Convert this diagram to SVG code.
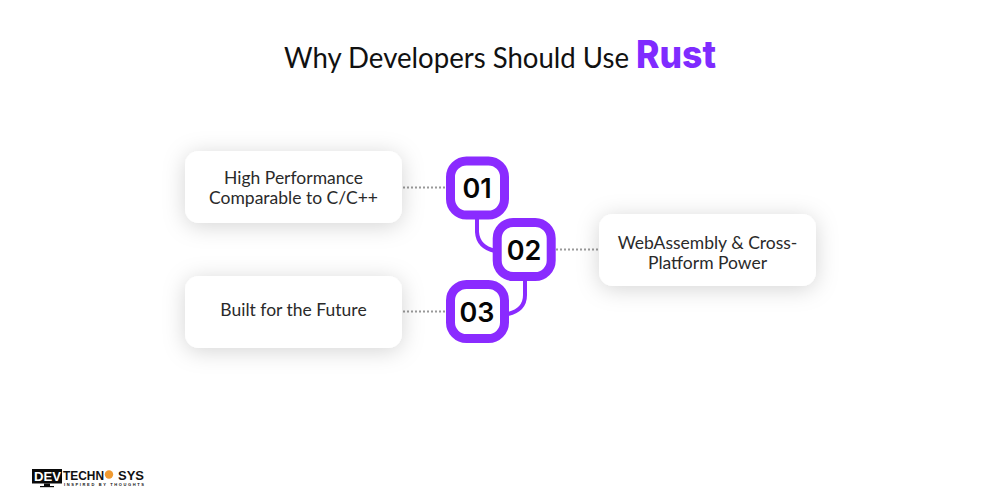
<svg xmlns="http://www.w3.org/2000/svg" width="1000" height="500" viewBox="0 0 1000 500">
<defs>
<filter id="sh" x="-30%" y="-60%" width="160%" height="220%"><feDropShadow dx="0" dy="3" stdDeviation="11" flood-color="#000" flood-opacity="0.17"/></filter>
</defs>
<style>
.card{fill:#fff;filter:url(#sh)}
.lbl{font-size:17.500px;font-weight:400;text-anchor:middle;font-family:"Lato","Liberation Sans",sans-serif;fill:#2a2a2a}
.badge{fill:#fff;stroke:#8a2bff;stroke-width:9}
.num{font-family:"Inter","Liberation Sans",sans-serif;font-weight:600;font-size:27px;text-anchor:middle;fill:#050505}
.dot{fill:none;stroke:#999;stroke-width:2;stroke-dasharray:2 2}
.link{fill:none;stroke:#8a2bff;stroke-width:4}
.lg{font-family:"Liberation Sans",sans-serif;font-weight:700;fill:#111}
</style>
<rect width="1000" height="500" fill="#fff"/>
<g id="title">
<text x="284" y="68" font-family="Lato,'Liberation Sans',sans-serif" font-size="29" fill="#111" textLength="345" lengthAdjust="spacingAndGlyphs">Why Developers Should Use</text>
<text x="636" y="67.500" font-family="Inter,'Liberation Sans',sans-serif" font-weight="800" font-size="38" fill="#7f2bff" textLength="80" lengthAdjust="spacingAndGlyphs">Rust</text>
</g>
<g id="connectors">
<path class="dot" d="M403 187.500H446"/>
<path class="dot" d="M403 311.500H446"/>
<path class="dot" d="M556 249.500H599"/>
<path class="link" d="M477 218V232Q478 247 495 251"/>
<path class="link" d="M525 280V295Q525 310 508 314"/>
</g>
<g id="node-1"><rect class="card" x="185" y="151" width="217" height="72" rx="14"/>
<text class="lbl" x="293.500" y="184">High Performance</text><text class="lbl" x="293.500" y="204">Comparable to C/C++</text></g>
<g id="node-2"><rect class="card" x="599" y="214" width="217" height="72" rx="14"/>
<text class="lbl" x="707.500" y="249">WebAssembly &amp; Cross-</text><text class="lbl" x="707.500" y="269">Platform Power</text></g>
<g id="node-3"><rect class="card" x="185" y="276" width="217" height="72" rx="14"/>
<text class="lbl" x="293.500" y="316">Built for the Future</text></g>
<g id="badge-1"><rect class="badge" x="450.500" y="161" width="54" height="54" rx="16"/><text class="num" x="477" y="198">01</text></g>
<g id="badge-2"><rect class="badge" x="497.200" y="222.500" width="54" height="54" rx="16"/><text class="num" x="524" y="260">02</text></g>
<g id="badge-3"><rect class="badge" x="450.500" y="284.500" width="54" height="54" rx="16"/><text class="num" x="477" y="322">03</text></g>
<g id="logo">
<rect x="32" y="469" width="30" height="14.500" fill="#0a0a0a"/>
<rect x="44" y="483.500" width="6" height="2.500" fill="#0a0a0a"/><rect x="40" y="486" width="14" height="1.200" fill="#0a0a0a"/>
<text class="lg" x="34" y="481" font-size="13" style="fill:#fff" textLength="27" lengthAdjust="spacingAndGlyphs">DEV</text>
<text class="lg" x="63" y="479.500" font-size="13" textLength="41" lengthAdjust="spacingAndGlyphs">TECHN</text>
<circle cx="109" cy="474.500" r="4.200" fill="#f09a30"/>
<text class="lg" x="118" y="479.500" font-size="13" textLength="26" lengthAdjust="spacingAndGlyphs">SYS</text>
<text class="lg" x="64" y="485.500" font-size="4" textLength="80" lengthAdjust="spacing">INSPIRED BY THOUGHTS</text>
</g>
</svg>
